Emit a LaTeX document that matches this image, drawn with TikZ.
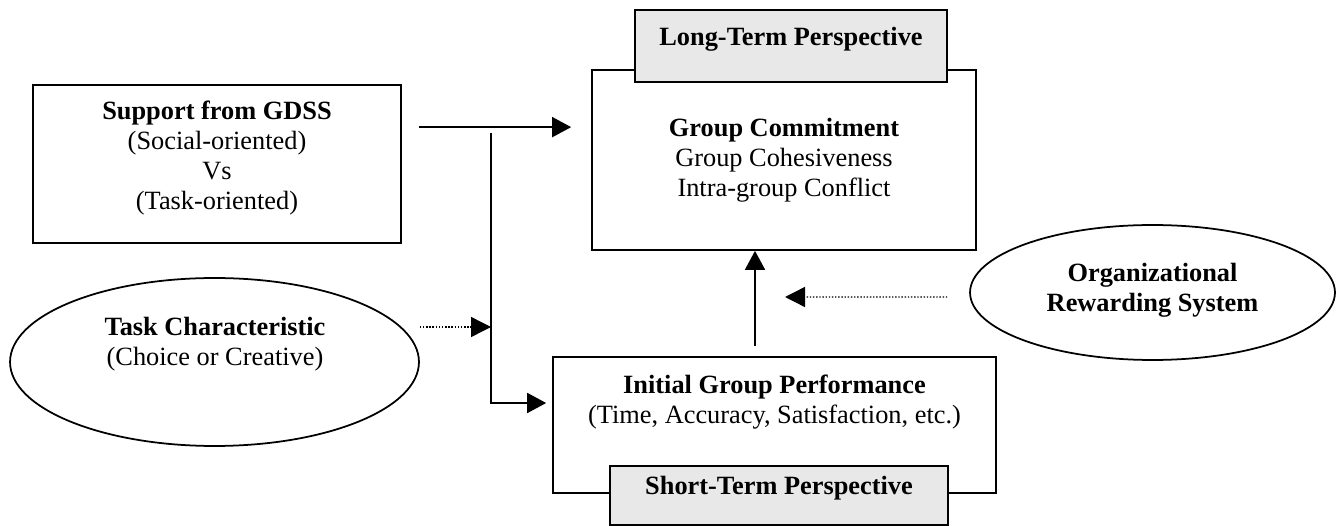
\documentclass[tikz,border=0pt]{standalone}
\usepackage{fontspec}
\setmainfont{Liberation Serif}
\usetikzlibrary{arrows.meta,shapes.geometric}

\begin{document}
\begin{tikzpicture}[x=0.02cm, y=-0.02cm,
        every node/.style={font=\fontsize{15}{17}\selectfont, align=center},
        box/.style={draw, line width=1pt, inner sep=0pt, fill=white},
        perspbox/.style={box, fill=black!9},
        oval/.style={draw, ellipse, line width=1pt, inner sep=0pt},
        arr/.style={line width=1pt, -{Triangle[length=0.38cm, width=0.4cm]}},
        dotarr/.style={line width=0.8pt, densely dotted, -{Triangle[length=0.4cm, width=0.4cm]}}]

        \useasboundingbox (0,0) rectangle (1338,526);

        % support box
        \node[box, minimum width=7.36cm, minimum height=3.16cm] (support) at (217,164) {};
        \node (supporttext) at (217,158) {\textbf{Support from GDSS}\\(Social-oriented)\\Vs\\(Task-oriented)};

        % long-term side
        \node[box, minimum width=7.68cm, minimum height=3.6cm] (group) at (784,160) {};
        \node (grouptext) at (784,160) {\textbf{Group Commitment}\\Group Cohesiveness\\Intra-group Conflict};
        \node[perspbox, minimum width=6.24cm, minimum height=1.44cm] (longterm) at (791,46) {};
        \node[font=\fontsize{15}{17}\selectfont\bfseries] (longtext) at (791,39) {Long-Term Perspective};

        % short-term side
        \node[box, minimum width=8.86cm, minimum height=2.72cm] (perf) at (774.5,425) {};
        \node (perftext) at (774.5,402) {\textbf{Initial Group Performance}\\(Time, Accuracy, Satisfaction, etc.)};
        \node[perspbox, minimum width=6.76cm, minimum height=1.18cm] (shortterm) at (779,495.5) {};
        \node[font=\fontsize{15}{17}\selectfont\bfseries] (shorttext) at (779,488) {Short-Term Perspective};

        % ovals
        \node[oval, minimum width=8.18cm, minimum height=3.36cm] (task) at (214.5,362) {};
        \node (tasktext) at (215,344) {\textbf{Task Characteristic}\\(Choice or Creative)};
        \node[oval, minimum width=7.3cm, minimum height=2.7cm] (reward) at (1152.5,292.5) {};
        \node (rewardtext) at (1152.5,290) {\textbf{Organizational}\\\textbf{Rewarding System}};

        \coordinate (split) at (491,133);
        \coordinate (rewardend) at (785,297);
        \coordinate (supportout) at ([yshift=-0.86cm]support.north east);
        \coordinate (taskout) at ([yshift=0.7cm]task.east);
        \coordinate (perfup) at ([xshift=-0.39cm]perf.north);

        \draw[arr, shorten <=0.34cm, shorten >=0.4cm] (supportout) -- (supportout -| group.west);
        \draw[arr, shorten >=0.12cm] (split) |- ([yshift=0.44cm]perf.west);
        \draw[dotarr] (taskout) -- (taskout -| split);
        \draw[arr, shorten <=0.2cm] (perfup) -- (perfup |- group.south);
        \draw[dotarr, shorten <=0.44cm] ([yshift=-0.09cm]reward.west) -- (rewardend);
    \end{tikzpicture}
\end{document}
